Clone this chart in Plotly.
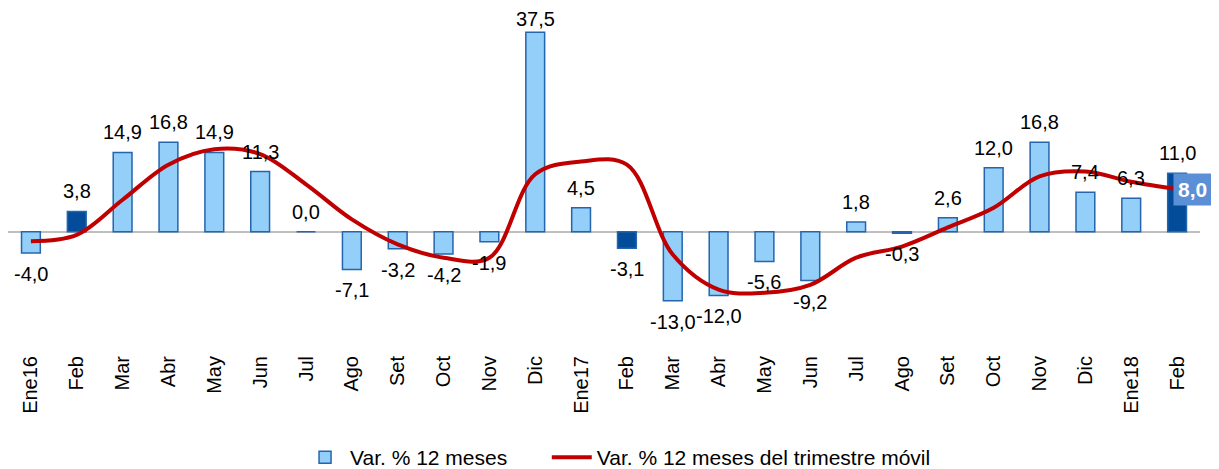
import plotly.graph_objects as go

# months Ene16 .. Feb18
months = ["Ene16", "Feb", "Mar", "Abr", "May", "Jun", "Jul", "Ago", "Set", "Oct", "Nov", "Dic",
          "Ene17", "Feb", "Mar", "Abr", "May", "Jun", "Jul", "Ago", "Set", "Oct", "Nov", "Dic",
          "Ene18", "Feb"]
var_12m = [-4.0, 3.8, 14.9, 16.8, 14.9, 11.3, 0.0, -7.1, -3.2, -4.2, -1.9, 37.5,
           4.5, -3.1, -13.0, -12.0, -5.6, -9.2, 1.8, -0.3, 2.6, 12.0, 16.8, 7.4,
           6.3, 11.0]
var_trim = [-1.8, -0.6, 6.0, 12.6, 15.5, 14.6, 8.9, 2.3, -2.4, -4.9, -4.9, 10.8,
            13.2, 12.6, -4.3, -10.9, -11.5, -10.0, -4.9, -2.8, 0.8, 4.5, 10.4, 11.3,
            9.4, 8.0]

LIGHT = "#93CFF8"
DARK = "#034C99"
EDGE = "#2465AE"
RED = "#C00000"
FONT = "Liberation Sans, Arial"
Y_MIN, Y_MAX = -20, 40

x = list(range(len(months)))
fills = [DARK if m == "Feb" else LIGHT for m in months]

fig = go.Figure()
fig.add_trace(go.Bar(
    x=x, y=var_12m, name="Var. % 12 meses",
    marker=dict(color=fills, line=dict(color=EDGE, width=1.5)),
    width=0.41, legend="legend",
))
fig.add_trace(go.Scatter(
    x=x, y=var_trim, name="Var. % 12 meses del trimestre móvil",
    mode="lines", line=dict(color=RED, width=4, shape="spline", smoothing=1.0),
    cliponaxis=False, legend="legend2",
))

# value labels at the end of each bar (tallest one kept tight so it stays on the page)
for xi, v in zip(x, var_12m):
    if v < 0:
        anchor, shift = "top", -8
    else:
        anchor, shift = "bottom", (0 if v > 0.9 * Y_MAX else 7)
    fig.add_annotation(
        x=xi, y=v, text=f"{v:.1f}".replace(".", ","), showarrow=False,
        yanchor=anchor, yshift=shift,
        font=dict(size=20, color="#000000", family=FONT),
    )

# highlight last value of the moving-quarter line
fig.add_annotation(
    x=x[-1], y=var_trim[-1], text=f"<b>{var_trim[-1]:.1f}</b>".replace(".", ","),
    showarrow=False, xanchor="left", xshift=-4,
    bgcolor="#5B8FD6", font=dict(size=21, color="white", family=FONT),
    borderpad=4,
)

leg = dict(orientation="h", xanchor="left", y=-0.375, yanchor="middle",
           font=dict(size=21), itemwidth=40, bgcolor="rgba(0,0,0,0)")

# page body adds an 8px margin, so the figure is sized to fit the window
fig.update_layout(
    width=1211, height=461,
    paper_bgcolor="white", plot_bgcolor="white",
    margin=dict(l=0, r=19, t=11, b=131, autoexpand=False),
    font=dict(family=FONT, size=20, color="#000000"),
    showlegend=True,
    legend=dict(leg, x=0.245),
    legend2=dict(leg, x=0.452),
    xaxis=dict(
        tickmode="array", tickvals=x, ticktext=months, tickangle=-90,
        range=[-0.5, len(months) - 0.5], showgrid=False, zeroline=False,
        showline=False, ticks="outside", ticklen=9, tickcolor="rgba(0,0,0,0)",
        tickfont=dict(size=20), automargin=False,
    ),
    yaxis=dict(range=[Y_MIN, Y_MAX], showgrid=False, zeroline=True, zerolinecolor="#BFBFBF",
               zerolinewidth=1.5, showticklabels=False, showline=False, automargin=False),
)

fig.write_html("out.html")
